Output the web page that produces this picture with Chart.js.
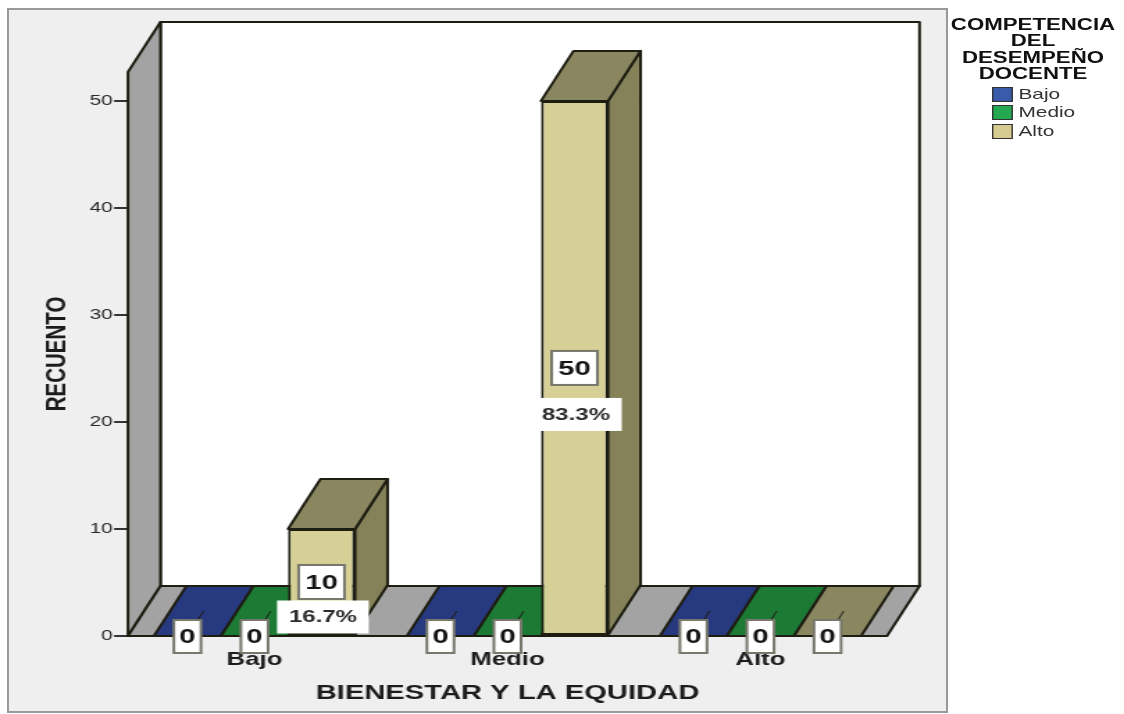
<!DOCTYPE html>
<html>
<head>
<meta charset="utf-8">
<title>Bienestar y la equidad</title>
<script src="https://cdn.jsdelivr.net/npm/chart.js@4"></script>
<style>
    html, body { margin: 0; padding: 0; background: #fff; overflow: hidden; }
    #frame {
        position: absolute; left: 7px; top: 8px; width: 937px; height: 701px;
        background: #efefef; border: 2px solid #999;
    }
    /* the original picture is a stretched export, so the whole chart is stretched too */
    #stage {
        position: absolute; left: 0; top: 0; width: 809px; height: 714px;
        transform: scaleX(1.3894); transform-origin: 0 0;
        filter: blur(0.4px);
    }
    #legend {
        position: absolute; left: 680px; top: 17px; width: 127px;
        font-family: "Liberation Sans", Arial, sans-serif; color: #222; text-align: center;
    }
    #legend .title { font-size: 16px; font-weight: bold; line-height: 16.4px; color: #111; }
    #legend .row { position: relative; height: 18.6px; text-align: left; font-size: 15px; line-height: 18px; color: #333; }
    #legend .box {
        position: absolute; left: 34.2px; top: 2px; width: 13px; height: 13px;
        border: 1px solid #333;
    }
    #legend .row span { position: absolute; left: 53px; top: 0; }
    #legend .rows { margin-top: 2px; }
</style>
</head>
<body>
<div id="frame"></div>
<div id="stage">
    <canvas id="chart" width="809" height="714" style="width:809px;height:714px"></canvas>
    <div id="legend"></div>
</div>
<script>
const categories = ["Bajo", "Medio", "Alto"];
const bajoValues = [0, 0, 0];
const medioValues = [0, 0, 0];
const altoValues = [10, 50, 0];
const altoPercents = ["16.7%", "83.3%", null];
const yTickMax = 52.7;

const legendTitle = ["COMPETENCIA", "DEL", "DESEMPEÑO", "DOCENTE"];
const seriesNames = ["Bajo", "Medio", "Alto"];

// front, top and side colours of each series
const frontColors = ["#2f4a94", "#1f8a3c", "#d6cf96"];
const topColors = ["#27397f", "#1c7a34", "#8a8760"];
const sideColors = ["#1f2f6a", "#166029", "#85825a"];
const legendColors = ["#3a5aaa", "#24a850", "#d6cb90"];

const FONT = '"Liberation Sans", Arial, sans-serif';
const LINE = "#1d1d12";
const DEPTH_X = 23.4, DEPTH_Y = 50;

function poly(ctx, pts, fill) {
    ctx.beginPath();
    pts.forEach((p, i) => i ? ctx.lineTo(p[0], p[1]) : ctx.moveTo(p[0], p[1]));
    ctx.closePath();
    ctx.fillStyle = fill;
    ctx.fill();
    ctx.stroke();
}

// Walls, floor and the top/side faces of the bars
const box3d = {
    id: "box3d",
    beforeDatasetsDraw(chart) {
        const ctx = chart.ctx;
        const { left, right, top, bottom } = chart.chartArea;
        ctx.save();
        ctx.strokeStyle = LINE;
        ctx.lineJoin = "round";
        ctx.lineWidth = 2;
        poly(ctx, [[left + DEPTH_X, top - DEPTH_Y], [right + DEPTH_X, top - DEPTH_Y], [right + DEPTH_X, bottom - DEPTH_Y], [left + DEPTH_X, bottom - DEPTH_Y]], "#fff");
        poly(ctx, [[left, top], [left + DEPTH_X, top - DEPTH_Y], [left + DEPTH_X, bottom - DEPTH_Y], [left, bottom]], "#a3a3a3");
        poly(ctx, [[left, bottom], [left + DEPTH_X, bottom - DEPTH_Y], [right + DEPTH_X, bottom - DEPTH_Y], [right, bottom]], "#a3a3a3");

        chart.data.datasets.forEach((ds, d) => {
            chart.getDatasetMeta(d).data.forEach(bar => {
                const x0 = bar.x - bar.width / 2, x1 = bar.x + bar.width / 2;
                if (bar.base - bar.y > 0) {
                    poly(ctx, [[x1, bar.y], [x1 + DEPTH_X, bar.y - DEPTH_Y], [x1 + DEPTH_X, bar.base - DEPTH_Y], [x1, bar.base]], sideColors[d]);
                }
                poly(ctx, [[x0, bar.y], [x0 + DEPTH_X, bar.y - DEPTH_Y], [x1 + DEPTH_X, bar.y - DEPTH_Y], [x1, bar.y]], topColors[d]);
            });
        });
        ctx.restore();
    },
    afterDatasetsDraw(chart) {
        const ctx = chart.ctx;
        const { left, right, bottom } = chart.chartArea;
        ctx.save();
        ctx.strokeStyle = LINE;
        ctx.lineWidth = 2;
        ctx.beginPath();
        ctx.moveTo(left, bottom);
        ctx.lineTo(right, bottom);
        ctx.stroke();
        ctx.textAlign = "center";
        ctx.textBaseline = "middle";

        chart.data.datasets.forEach((ds, d) => {
            chart.getDatasetMeta(d).data.forEach((bar, i) => {
                const value = ds.data[i];
                const mid = (bar.y + bar.base) / 2;
                const w = value >= 10 ? 33 : 19.5, h = value >= 10 ? 34 : 33;
                if (value === 0) {
                    ctx.strokeStyle = LINE;
                    ctx.lineWidth = 1;
                    ctx.beginPath();
                    ctx.moveTo(bar.x, mid);
                    ctx.lineTo(bar.x + DEPTH_X / 2, mid - DEPTH_Y / 2);
                    ctx.stroke();
                }
                const cy = value === 0 ? mid + 0.5 : mid;
                ctx.fillStyle = "#fff";
                ctx.strokeStyle = "#77776c";
                ctx.lineWidth = 2;
                ctx.fillRect(bar.x - w / 2, cy - h / 2, w, h);
                ctx.strokeRect(bar.x - w / 2, cy - h / 2, w, h);
                ctx.fillStyle = "#141414";
                ctx.font = "bold 21px " + FONT;
                ctx.fillText(String(value), bar.x, cy + 1);

                const pct = d === 2 ? altoPercents[i] : null;
                if (pct) {
                    const py = value >= 50 ? mid + 46 : mid + 34.5;
                    ctx.fillStyle = "#fff";
                    ctx.fillRect(bar.x - 32, py - 16, 66, 33);
                    ctx.fillStyle = "#2b2b2b";
                    ctx.font = "bold 17.3px " + FONT;
                    ctx.fillText(pct, bar.x + 1, py + 1);
                }
            });
        });
        ctx.restore();
    }
};

const datasets = seriesNames.map((name, d) => ({
    label: name,
    data: [bajoValues, medioValues, altoValues][d],
    backgroundColor: frontColors[d],
    borderColor: LINE,
    borderWidth: 2,
    borderSkipped: false,
    categoryPercentage: 0.795,
    barPercentage: 1
}));

const chart = new Chart(document.getElementById("chart"), {
    type: "bar",
    data: { labels: categories, datasets: datasets },
    plugins: [box3d],
    options: {
        responsive: false,
        animation: false,
        devicePixelRatio: 1,
        layout: { padding: { left: 0, right: 170.6, top: 72, bottom: 0 } },
        plugins: { legend: { display: false }, tooltip: { enabled: false } },
        scales: {
            x: {
                grid: { display: false },
                border: { display: false },
                afterFit: s => { s.height = 78; },
                ticks: { color: "#1c1c1c", font: { family: FONT, size: 18.5, weight: "bold" }, padding: 5, maxRotation: 0 },
                title: {
                    display: true,
                    text: "BIENESTAR Y LA EQUIDAD",
                    color: "#1c1c1c",
                    font: { family: FONT, size: 21, weight: "bold" },
                    padding: { top: 0, bottom: 8 }
                }
            },
            y: {
                min: 0,
                max: yTickMax,
                grid: { drawOnChartArea: false, color: "#333", lineWidth: 2, tickLength: 10 },
                border: { display: false },
                afterFit: s => { s.width = 92.1; },
                ticks: { stepSize: 10, includeBounds: false, color: "#2a2a2a", font: { family: FONT, size: 15 }, padding: 1 },
                title: {
                    display: true,
                    text: "RECUENTO",
                    color: "#1c1c1c",
                    font: { family: FONT, size: 20.5, weight: "bold" },
                    padding: { top: 29, bottom: 0 }
                }
            }
        }
    }
});

// HTML legend built from the chart's datasets
const legend = document.getElementById("legend");
legend.innerHTML = legendTitle.map(t => `<div class="title">${t}</div>`).join("") +
    '<div class="rows">' + chart.data.datasets.map((ds, d) =>
        `<div class="row"><div class="box" style="background:${legendColors[d]}"></div><span>${ds.label}</span></div>`
    ).join("") + "</div>";
</script>
</body>
</html>
